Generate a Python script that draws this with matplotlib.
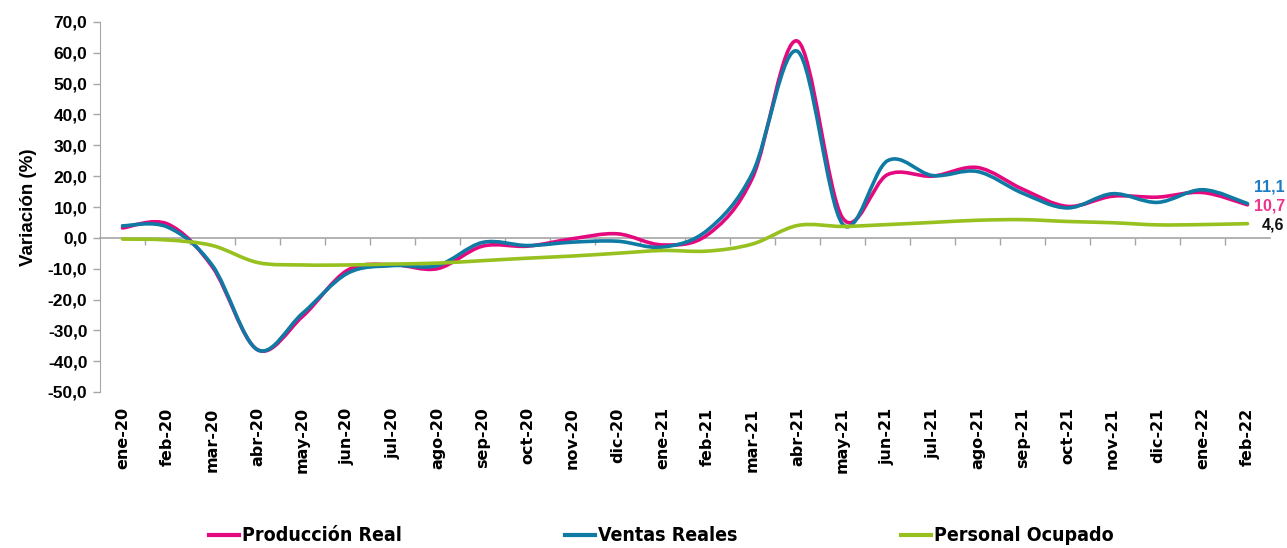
import numpy as np
import matplotlib
matplotlib.use("Agg")
import matplotlib.pyplot as plt
from matplotlib.path import Path
from matplotlib.patches import PathPatch
from matplotlib.lines import Line2D
from matplotlib.ticker import FuncFormatter, MultipleLocator

months = ["ene-20", "feb-20", "mar-20", "abr-20", "may-20", "jun-20", "jul-20",
          "ago-20", "sep-20", "oct-20", "nov-20", "dic-20", "ene-21", "feb-21",
          "mar-21", "abr-21", "may-21", "jun-21", "jul-21", "ago-21", "sep-21",
          "oct-21", "nov-21", "dic-21", "ene-22", "feb-22"]

produccion = [3.2, 4.5, -9.5, -36.3, -25.5, -10.5, -8.7, -10.0, -2.7, -2.7,
              -0.3, 1.3, -2.3, 1.0, 19.5, 63.8, 6.5, 20.5, 20.0, 22.8,
              15.8, 10.2, 13.5, 13.2, 14.7, 10.7]
ventas = [3.9, 3.5, -9.0, -36.3, -24.5, -11.5, -9.0, -9.0, -1.5, -2.5,
          -1.4, -1.1, -3.0, 2.5, 21.0, 60.5, 4.5, 25.0, 20.2, 21.5,
          14.5, 9.7, 14.3, 11.5, 15.6, 11.1]
personal = [-0.4, -0.7, -2.5, -8.0, -8.8, -8.8, -8.5, -8.2, -7.4, -6.6,
            -5.9, -5.0, -4.1, -4.3, -2.0, 4.0, 3.7, 4.3, 5.0, 5.7,
            5.9, 5.3, 4.9, 4.2, 4.3, 4.6]

series_names = ["Producción Real", "Ventas Reales", "Personal Ocupado"]
colors = ["#E5097F", "#0F7AA3", "#96C11F"]
end_labels = ["10,7", "11,1", "4,6"]
end_label_colors = ["#F0328F", "#1E7CC4", "#111111"]

plt.rcParams['font.family'] = ['DejaVu Sans']

fig = plt.figure(figsize=(12.87, 5.48), dpi=100)
ax = fig.add_axes([100/1287, 1-392/548, 1170/1287, 370/548])

x = np.arange(len(months))


def smooth_path(xs, ys):
    xs = np.asarray(xs, float)
    ys = np.asarray(ys, float)
    n = len(xs)
    verts = [(xs[0], ys[0])]
    codes = [Path.MOVETO]
    for i in range(n - 1):
        p0 = np.array([xs[max(i-1, 0)], ys[max(i-1, 0)]])
        p1 = np.array([xs[i], ys[i]])
        p2 = np.array([xs[i+1], ys[i+1]])
        p3 = np.array([xs[min(i+2, n-1)], ys[min(i+2, n-1)]])
        c1 = p1 + (p2 - p0) / 6.0
        c2 = p2 - (p3 - p1) / 6.0
        verts += [tuple(c1), tuple(c2), tuple(p2)]
        codes += [Path.CURVE4] * 3
    return Path(verts, codes)


all_series = [produccion, ventas, personal]
for vals, col in zip(all_series, colors):
    patch = PathPatch(smooth_path(x, vals), facecolor='none', edgecolor=col,
                      lw=2.6, capstyle='round', joinstyle='round', zorder=3)
    ax.add_patch(patch)

# end labels
offsets = [(5, -1), (5, 12), (10, -1)]
for vals, lab, col, off in zip(all_series, end_labels, end_label_colors, offsets):
    ax.annotate(lab, xy=(x[-1], vals[-1]), xytext=off, textcoords='offset points',
                ha='left', va='center', fontsize=11.5, fontweight='bold', color=col,
                annotation_clip=False, family='Liberation Sans')

ax.set_xlim(-0.5, len(months) - 0.5)
ax.set_ylim(-50, 70)

# spines
for s in ['top', 'right']:
    ax.spines[s].set_visible(False)
ax.spines['left'].set_color('#A6A6A6')
ax.spines['bottom'].set_position(('data', 0))
ax.spines['bottom'].set_color('#A6A6A6')
ax.spines['bottom'].set_linewidth(1.2)

# y axis
ax.yaxis.set_major_locator(MultipleLocator(10))
ax.yaxis.set_major_formatter(FuncFormatter(lambda v, p: f"{v:.1f}".replace('.', ',')))
ax.tick_params(axis='y', direction='out', length=5, color='#A6A6A6', width=1,
               labelsize=12.5, pad=4)
for t in ax.get_yticklabels():
    t.set_fontweight('bold')
    t.set_family('Liberation Sans')
ax.set_ylabel("Variación (%)", fontsize=13.5, fontweight='bold', family='Liberation Sans',
              labelpad=8)

# x axis: ticks on zero line between categories, labels at bottom
ax.set_xticks(x[:-1] + 0.5)
ax.tick_params(axis='x', direction='out', length=5, color='#A6A6A6', width=1,
               labelbottom=False)

sec = ax.secondary_xaxis('bottom')
sec.set_xticks(x)
sec.set_xticklabels(months, rotation=90, fontsize=11.5, fontweight='bold')
sec.tick_params(axis='x', length=0, pad=11)
sec.spines['bottom'].set_visible(False)

# legend
handles = [Line2D([], [], color=c, lw=3) for c in colors]
leg = fig.legend(handles, series_names, loc='center', bbox_to_anchor=(0.514, 0.022),
                 ncol=3, frameon=False, columnspacing=8.4, handlelength=1.55,
                 handletextpad=0.15,
                 prop={'family': 'DejaVu Sans', 'weight': 'bold', 'size': 14,
                       'stretch': 'condensed'})

fig.savefig("out.png", dpi=100)
